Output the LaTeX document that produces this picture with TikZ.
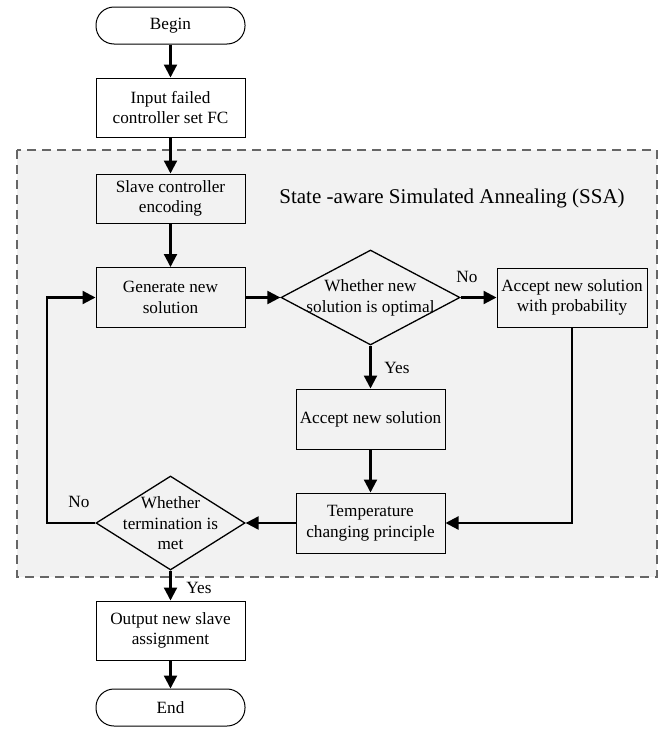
\documentclass[tikz,border=0pt]{standalone}
\usepackage{fontspec}
\setmainfont{Liberation Serif}
\usetikzlibrary{arrows.meta,shapes.geometric}
\definecolor{regionfill}{HTML}{F2F2F2}
\definecolor{regionline}{HTML}{666666}
\tikzset{
  txt/.style={font=\fontsize{17.2}{20.6}\selectfont},
  box/.style={draw, line width=1pt, fill=white, minimum width=149pt, inner sep=2pt, align=center, txt},
  boxin/.style={box, fill=regionfill},
  term/.style={box, rounded corners=18pt, minimum height=37pt},
  dia/.style={draw, line width=1.3pt, diamond, inner sep=0pt, shape aspect=1.8},
  arr/.style={line width=2.2pt, -{Triangle[length=13pt,width=13pt]}},
  lbl/.style={txt, inner sep=0pt}
}
\begin{document}
\begin{tikzpicture}[x=1pt,y=-1pt]
\useasboundingbox (0,0) rectangle (667,731);
\fill[white] (0,0) rectangle (667,731);
% SSA region
\draw[regionline, fill=regionfill, line width=1.3pt, dash pattern=on 9pt off 6pt] (17,150) rectangle (657,577);
\node[font=\fontsize{21}{25}\selectfont, inner sep=0pt] (ssa) at (452,198) {State -aware Simulated Annealing (SSA)};
% nodes
\node[term] (begin) at (170.5,25.5) {Begin};
\node[box, minimum height=59pt] (input) at (170.5,107.5) {Input failed\\controller set FC};
\node[boxin, minimum height=49pt] (slave) at (170.5,198.5) {Slave controller\\encoding};
\node[boxin, minimum height=60pt] (gen) at (170.5,297.5) {Generate new\\solution};
\node[dia, fill=regionfill, minimum width=179pt, minimum height=95pt] (opt) at (370.5,297.5) {};
\node[lbl, align=center] (optt) at (370.5,298) {Whether new\\solution is optimal};
\node[boxin, minimum width=150pt, minimum height=59pt] (prob) at (572,297.5) {Accept new solution\\with probability};
\node[boxin, minimum height=60pt] (acc) at (370.5,419) {Accept new solution};
\node[boxin, minimum height=60pt] (temp) at (370.5,523) {Temperature\\changing principle};
\node[dia, fill=regionfill, minimum width=149pt, minimum height=94pt] (tm) at (170.5,523) {};
\node[lbl, align=center] (tmt) at (170.5,523.5) {Whether\\termination is\\met};
\node[box, minimum height=59pt] (out) at (170.5,630.5) {Output new slave\\assignment};
\node[term] (end) at (170.5,707.5) {End};
% connectors
\draw[arr] (begin) -- (input);
\draw[arr] (input) -- (slave);
\draw[arr] (slave) -- (gen);
\draw[arr] (gen.east) -- (opt.west);
\draw[arr] (opt.east) -- (prob.west);
\draw[arr] (opt.south) -- (acc);
\draw[arr] (acc) -- (temp);
\draw[arr] (prob.south) |- (temp.east);
\draw[arr] (temp.west) -- (tm.east);
\coordinate (lp) at (47,523);
\draw[arr] (tm.west) -- (lp) |- (gen.west);
\draw[arr] (tm.south) -- (out);
\draw[arr] (out) -- (end);
% labels
\node[lbl] (no1) at (467,277) {No};
\node[lbl] (yes1) at (397,368) {Yes};
\node[lbl] (no2) at (79,502) {No};
\node[lbl] (yes2) at (199,588) {Yes};
\end{tikzpicture}
\end{document}
